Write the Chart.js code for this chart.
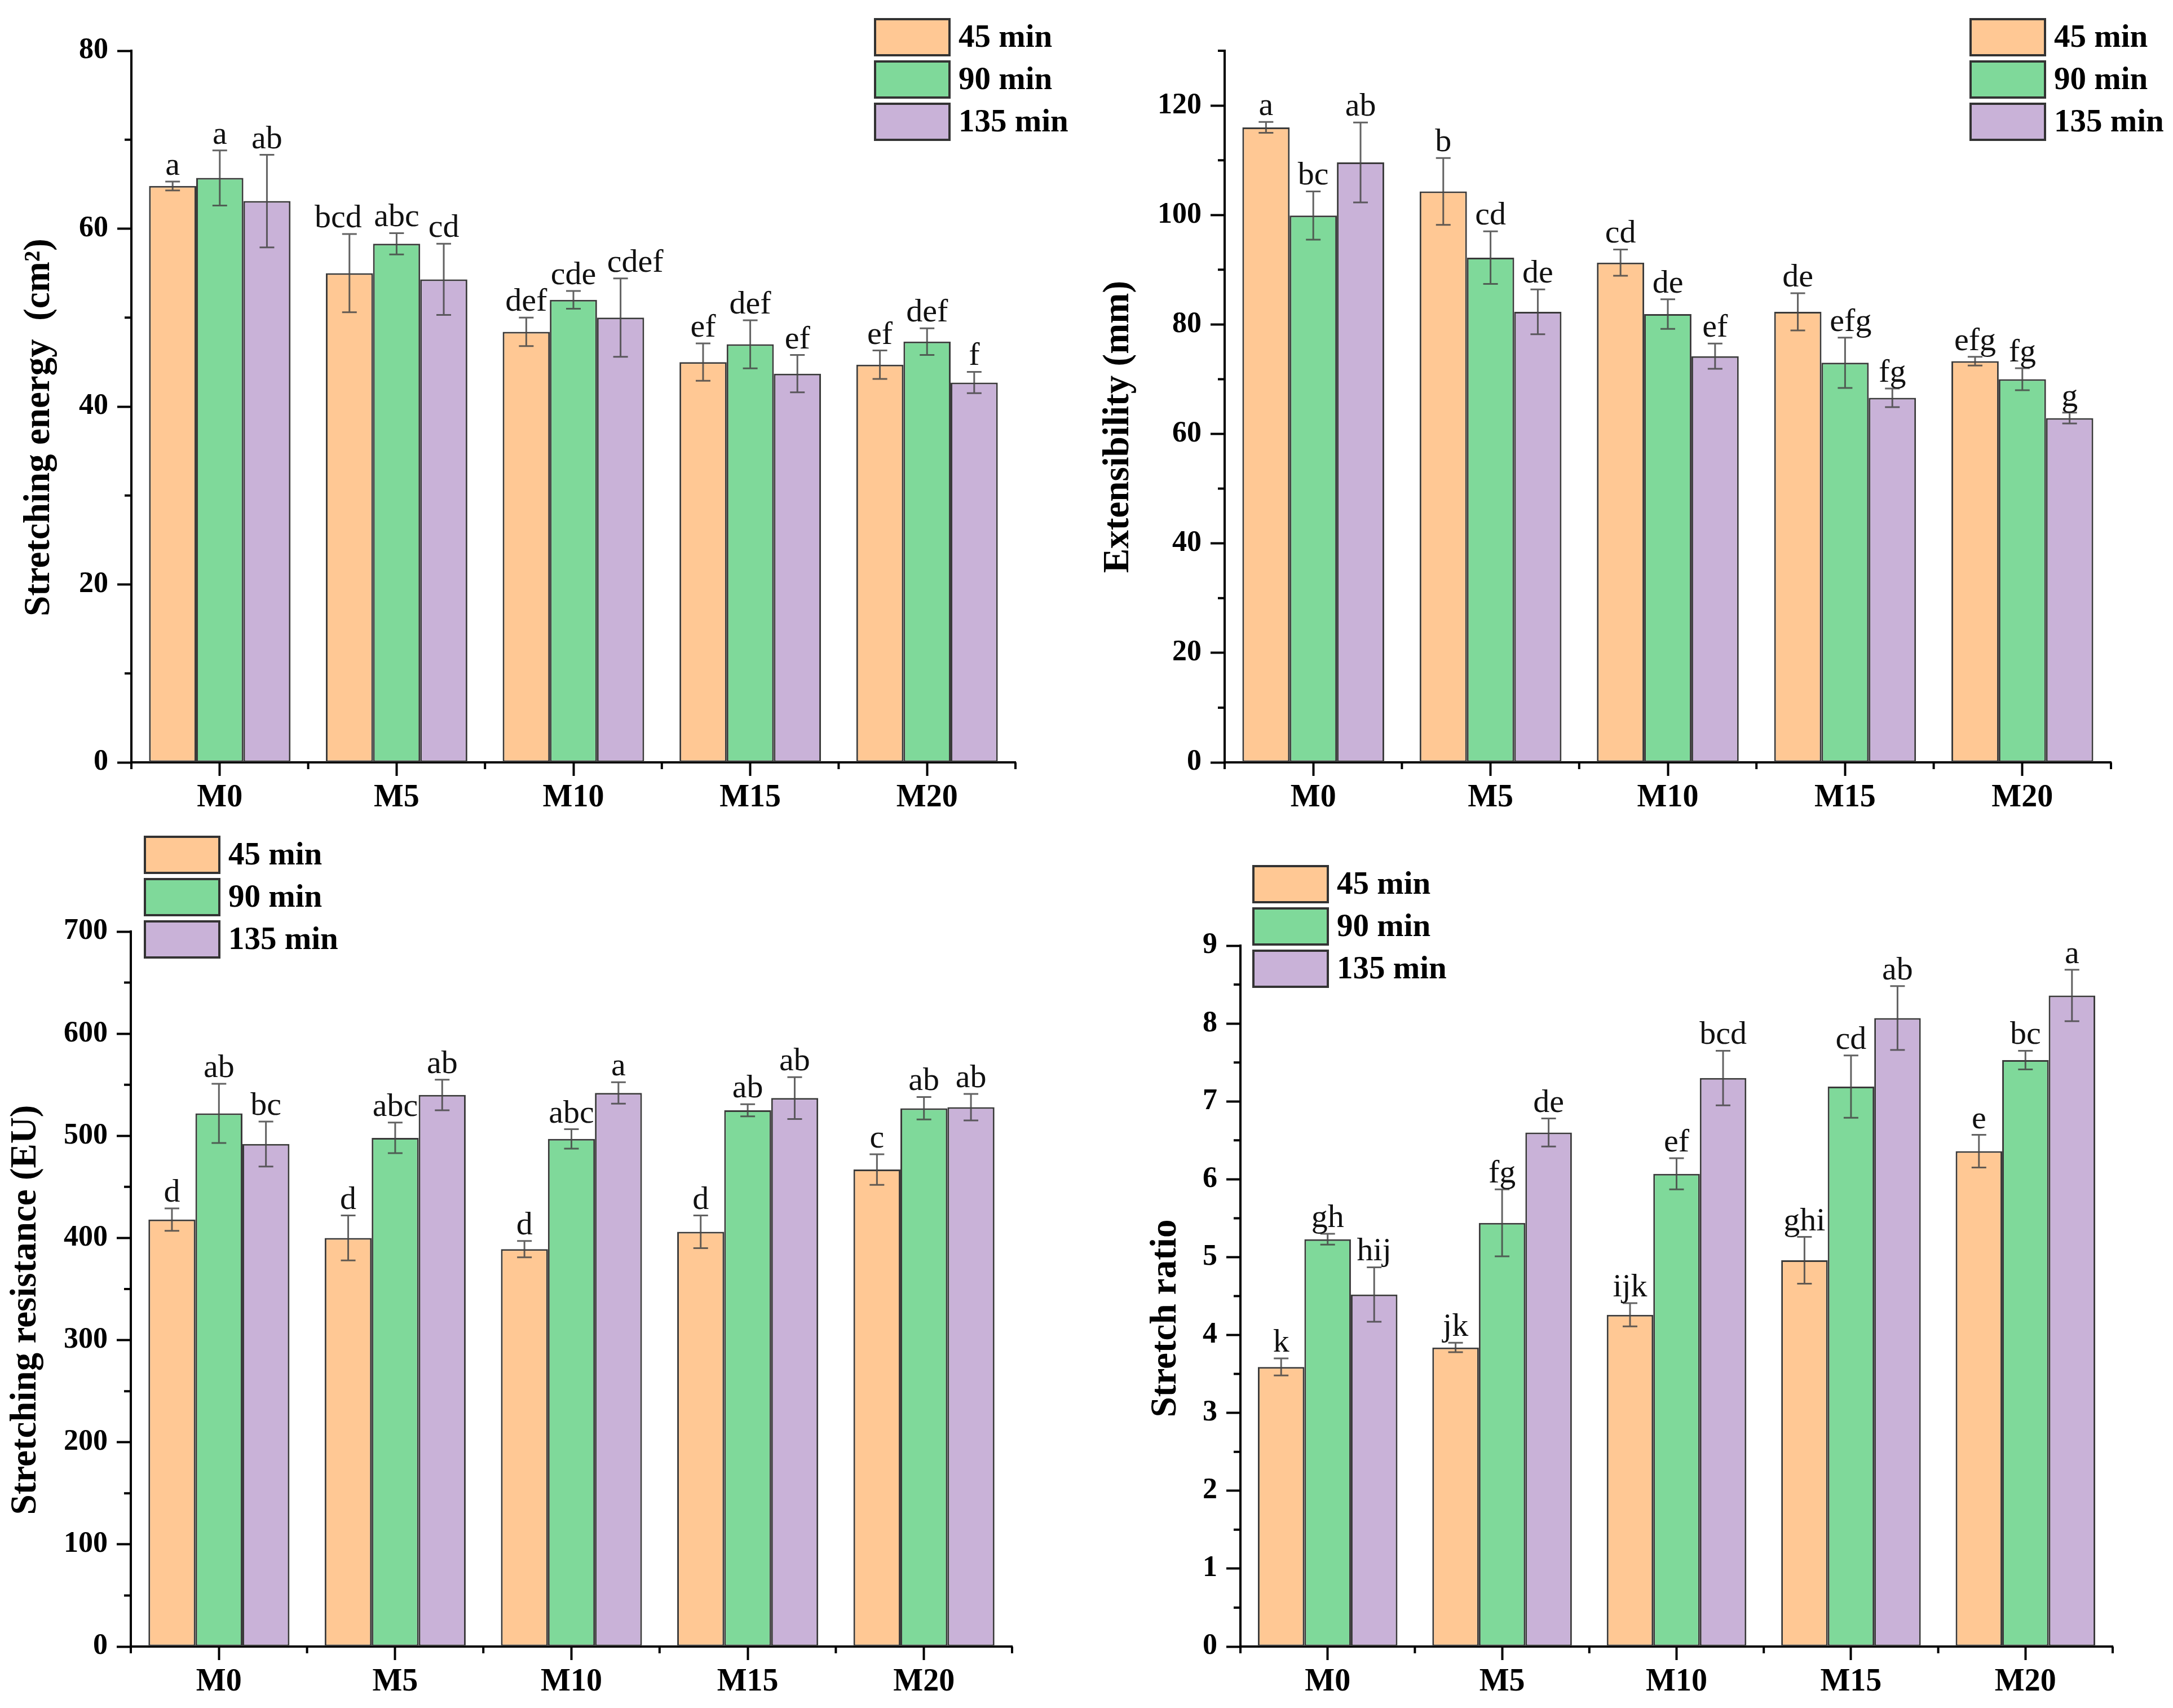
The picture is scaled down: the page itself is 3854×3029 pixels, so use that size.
<!DOCTYPE html>
<html>
<head>
<meta charset="utf-8">
<script src="https://cdn.jsdelivr.net/npm/chart.js@4.4.1/dist/chart.umd.min.js"></script>
<style>
html, body { margin:0; padding:0; background:#fff; width:3854px; height:3029px; overflow:hidden; }
.panel { position:absolute; }
</style>
</head>
<body>
<div class="panel" style="left:0px;top:0px;width:1901px;height:1482px"><canvas id="c1"></canvas></div>
<div class="panel" style="left:1932px;top:0px;width:1912px;height:1482px"><canvas id="c2"></canvas></div>
<div class="panel" style="left:0px;top:1440px;width:1895px;height:1589px"><canvas id="c3"></canvas></div>
<div class="panel" style="left:1950px;top:1440px;width:1897px;height:1589px"><canvas id="c4"></canvas></div>
<script>
const categories = ['M0', 'M5', 'M10', 'M15', 'M20'];
const seriesNames = ['45 min', '90 min', '135 min'];
const colors = ['#ffc894', '#7fd99a', '#c9b2d8'];

// stretching energy (cm2)
const energy45 = [64.8, 55.0, 48.4, 45.0, 44.7];
const energy90 = [65.7, 58.3, 52.0, 47.0, 47.3];
const energy135 = [63.1, 54.3, 50.0, 43.7, 42.7];
const energyErr45 = [0.5, 4.4, 1.6, 2.1, 1.6];
const energyErr90 = [3.1, 1.2, 1.0, 2.7, 1.5];
const energyErr135 = [5.2, 4.0, 4.4, 2.1, 1.2];
const energyLet45 = ['a', 'bcd', 'def', 'ef', 'ef'];
const energyLet90 = ['a', 'abc', 'cde', 'def', 'def'];
const energyLet135 = ['ab', 'cd', 'cdef', 'ef', 'f'];

// extensibility (mm)
const ext45 = [116.0, 104.3, 91.3, 82.3, 73.3];
const ext90 = [99.9, 92.2, 81.9, 73.0, 70.0];
const ext135 = [109.6, 82.3, 74.2, 66.6, 62.9];
const extErr45 = [1.0, 6.1, 2.4, 3.4, 0.8];
const extErr90 = [4.4, 4.8, 2.7, 4.6, 2.0];
const extErr135 = [7.3, 4.1, 2.3, 1.7, 1.0];
const extLet45 = ['a', 'b', 'cd', 'de', 'efg'];
const extLet90 = ['bc', 'cd', 'de', 'efg', 'fg'];
const extLet135 = ['ab', 'de', 'ef', 'fg', 'g'];

// stretching resistance (EU)
const res45 = [418, 400, 389, 406, 467];
const res90 = [522, 498, 497, 525, 527];
const res135 = [492, 540, 542, 537, 528];
const resErr45 = [11, 22, 8, 16, 15];
const resErr90 = [29, 15, 9.5, 6, 11];
const resErr135 = [22, 15, 10.5, 20.5, 13];
const resLet45 = ['d', 'd', 'd', 'd', 'c'];
const resLet90 = ['ab', 'abc', 'abc', 'ab', 'ab'];
const resLet135 = ['bc', 'ab', 'a', 'ab', 'ab'];

// stretch ratio
const ratio45 = [3.59, 3.84, 4.26, 4.96, 6.36];
const ratio90 = [5.23, 5.44, 6.07, 7.19, 7.53];
const ratio135 = [4.52, 6.60, 7.30, 8.07, 8.36];
const ratioErr45 = [0.11, 0.06, 0.15, 0.30, 0.21];
const ratioErr90 = [0.07, 0.43, 0.20, 0.40, 0.12];
const ratioErr135 = [0.35, 0.18, 0.35, 0.41, 0.33];
const ratioLet45 = ['k', 'jk', 'ijk', 'ghi', 'e'];
const ratioLet90 = ['gh', 'fg', 'ef', 'cd', 'bc'];
const ratioLet135 = ['hij', 'de', 'bcd', 'ab', 'a'];

const serif = '"Liberation Serif", "Times New Roman", serif';

// minor ticks, error bars, letters, legend and the rotated y title
const decor = {
  id: 'decor',
  afterDatasetsDraw(chart, args, o) {
    const ctx = chart.ctx, y = chart.scales.y;
    const nudge = o.nudge || {};
    ctx.save();
    ctx.strokeStyle = 'rgba(70,70,70,0.85)';
    ctx.lineWidth = 3;
    ctx.fillStyle = '#111';
    ctx.font = '58px ' + serif;
    ctx.textAlign = 'center';
    ctx.textBaseline = 'alphabetic';
    chart.data.datasets.forEach((ds, i) => {
      chart.getDatasetMeta(i).data.forEach((bar, j) => {
        const v = ds.data[j], e = ds.errors[j];
        const t = y.getPixelForValue(v + e), b = y.getPixelForValue(v - e);
        ctx.beginPath();
        ctx.moveTo(bar.x, t); ctx.lineTo(bar.x, b);
        ctx.moveTo(bar.x - 13, t); ctx.lineTo(bar.x + 13, t);
        ctx.moveTo(bar.x - 13, b); ctx.lineTo(bar.x + 13, b);
        ctx.stroke();
        ctx.fillText(ds.letters[j], bar.x + (nudge[i + ',' + j] || 0), t - 12);
      });
    });
    ctx.restore();
  },
  afterDraw(chart, args, o) {
    const ctx = chart.ctx, y = chart.scales.y;
    const a = chart.chartArea;
    ctx.save();
    ctx.strokeStyle = '#000';
    ctx.lineWidth = 4;
    ctx.beginPath();
    for (let v = o.step / 2; v <= y.max + 1e-9; v += o.step) {
      const py = y.getPixelForValue(v);
      ctx.moveTo(a.left - 12, py); ctx.lineTo(a.left, py);
    }
    const n = categories.length;
    for (let i = 0; i <= n; i++) {
      const px = a.left + i * (a.right - a.left) / n;
      ctx.moveTo(px, a.bottom); ctx.lineTo(px, a.bottom + 12);
    }
    ctx.stroke();

    // legend
    ctx.font = 'bold 57px ' + serif;
    ctx.textAlign = 'left';
    ctx.textBaseline = 'middle';
    chart.data.datasets.forEach((ds, i) => {
      const lx = o.legendX, ly = o.legendY + i * 75;
      ctx.fillStyle = ds.backgroundColor;
      ctx.fillRect(lx, ly, 132, 64);
      ctx.strokeStyle = '#333';
      ctx.lineWidth = 4;
      ctx.strokeRect(lx, ly, 132, 64);
      ctx.fillStyle = '#000';
      ctx.fillText(ds.label, lx + 148, ly + 34);
    });

    // y title
    ctx.translate(o.titleX, o.titleY);
    ctx.rotate(-Math.PI / 2);
    ctx.font = 'bold 65px ' + serif;
    ctx.textAlign = 'center';
    ctx.fillStyle = '#000';
    ctx.fillText(o.title, 0, 0);
    ctx.restore();
  }
};

function drawPanel(id, vals, errs, lets, yMax, step, p) {
  const datasets = [];
  for (let i = 0; i < 3; i++) {
    datasets.push({
      label: seriesNames[i], data: vals[i], errors: errs[i], letters: lets[i],
      backgroundColor: colors[i], borderColor: '#3a3a3a', borderWidth: 3, borderSkipped: false,
      categoryPercentage: 0.8, barPercentage: 1.0
    });
  }
  new Chart(document.getElementById(id), {
    type: 'bar',
    data: { labels: categories, datasets },
    plugins: [decor],
    options: {
      responsive: true, maintainAspectRatio: false, animation: false, devicePixelRatio: 1,
      layout: { padding: { left: 0, top: p.top, right: 100, bottom: 0 } },
      plugins: {
        legend: { display: false }, tooltip: { enabled: false },
        decor: { step, title: p.title, titleX: p.titleX, titleY: p.titleY, legendX: p.legendX, legendY: p.legendY, nudge: p.nudge }
      },
      scales: {
        x: {
          offset: true,
          grid: { offset: false, drawOnChartArea: false, drawTicks: true, tickLength: 24, tickWidth: 4, tickColor: '#000' },
          border: { display: true, color: '#000', width: 4 },
          ticks: { color: '#000', padding: 6, font: { family: serif, weight: 'bold', size: 56 } },
          afterFit: s => { s.height = p.xh; }
        },
        y: {
          min: 0, max: yMax,
          grid: { drawOnChartArea: false, drawTicks: true, tickLength: 25, tickWidth: 4, tickColor: '#000' },
          border: { display: true, color: '#000', width: 4 },
          ticks: { stepSize: step, color: '#000', padding: 16, font: { family: serif, weight: 'bold', size: 52 } },
          afterBuildTicks: s => { s.ticks = s.ticks.filter(t => Math.abs(t.value / step - Math.round(t.value / step)) < 1e-6); },
          afterFit: s => { s.width = p.yw; }
        }
      }
    }
  });
}

drawPanel('c1', [energy45, energy90, energy135], [energyErr45, energyErr90, energyErr135],
  [energyLet45, energyLet90, energyLet135], 80, 20,
  { top: 90, xh: 130, yw: 233, title: 'Stretching energy  (cm\u00b2)', titleX: 70, titleY: 758, legendX: 1552, legendY: 34,
    nudge: { '0,1': -20, '2,2': 26 } });

drawPanel('c2', [ext45, ext90, ext135], [extErr45, extErr90, extErr135],
  [extLet45, extLet90, extLet135], 130, 20,
  { top: 90, xh: 130, yw: 240, title: 'Extensibility (mm)', titleX: 52, titleY: 757, legendX: 1563, legendY: 34,
    nudge: { '1,3': 10 } });

drawPanel('c3', [res45, res90, res135], [resErr45, resErr90, resErr135],
  [resLet45, resLet90, resLet135], 700, 100,
  { top: 212, xh: 109, yw: 232, title: 'Stretching resistance (EU)', titleX: 46, titleY: 883, legendX: 257, legendY: 44 });

drawPanel('c4', [ratio45, ratio90, ratio135], [ratioErr45, ratioErr90, ratioErr135],
  [ratioLet45, ratioLet90, ratioLet135], 9, 1,
  { top: 237, xh: 109, yw: 250, title: 'Stretch ratio', titleX: 118, titleY: 898, legendX: 273, legendY: 96 });
</script>
</body>
</html>
